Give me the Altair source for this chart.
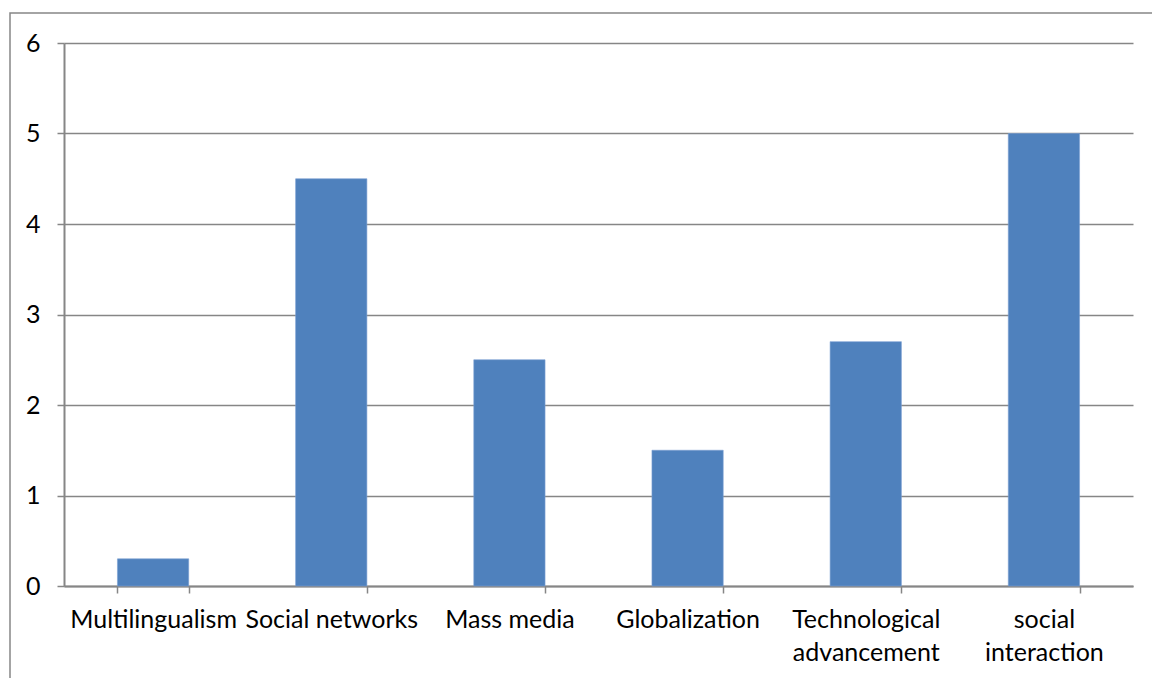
import altair as alt
import pandas as pd

categories = ["Multilingualism", "Social networks", "Mass media", "Globalization",
              "Technological advancement", "social interaction"]
values = [0.3, 4.5, 2.5, 1.5, 2.7, 5.0]
y_ticks = [0, 1, 2, 3, 4, 5, 6]

df = pd.DataFrame({"factor": categories, "score": values})

W, H = 1069, 543
LEFT, TOP = 64, 43
RIGHT, BOTTOM = 1152 - LEFT - W, 678 - TOP - H
FONT = "Lato"
GRAY = "#868686"

bars = alt.Chart(df).mark_bar(color="#4F81BD", stroke="#7aa0d4", strokeWidth=0.6).encode(
    x=alt.X(
        "factor:N",
        sort=categories,
        scale=alt.Scale(paddingInner=0.6, paddingOuter=0.3),
        axis=alt.Axis(
            title=None,
            labelAngle=0,
            labelFont=FONT,
            labelFontSize=25,
            labelColor="#000000",
            labelPadding=14,
            labelLineHeight=33,
            labelLimit=400,
            labelExpr="datum.label == 'Technological advancement' || datum.label == 'social interaction' ? split(datum.label, ' ') : datum.label",
            tickBand="extent",
            tickSize=7,
            tickColor=GRAY,
            tickWidth=1.5,
            domainColor=GRAY,
            domainWidth=2,
            grid=False,
        ),
    ),
    y=alt.Y(
        "score:Q",
        scale=alt.Scale(domain=[0, 6], nice=False),
        axis=alt.Axis(
            title=None,
            values=y_ticks,
            labelFont=FONT,
            labelFontSize=25,
            labelColor="#000000",
            labelPadding=17,
            tickSize=7,
            tickColor=GRAY,
            tickWidth=1.5,
            domainColor=GRAY,
            domainWidth=2,
            grid=True,
            gridColor=GRAY,
            gridWidth=1.5,
        ),
    ),
)

# Outer chart frame, partly running past the canvas edge
frame = alt.Chart(pd.DataFrame({"k": [0]})).mark_rect(
    fill=None, stroke=GRAY, strokeWidth=1.5, clip=False
).encode(
    x=alt.value(10 - LEFT),
    x2=alt.value(1152 - LEFT + 20),
    y=alt.value(13 - TOP),
    y2=alt.value(678 - TOP + 20),
)

chart = alt.layer(frame, bars).properties(
    width=W,
    height=H,
    autosize=alt.AutoSizeParams(type="none"),
    padding={"left": LEFT, "top": TOP, "right": RIGHT, "bottom": BOTTOM},
    background="white",
).configure_view(stroke=None)

chart.save("out.html", embed_options={"renderer": "svg", "actions": False})
